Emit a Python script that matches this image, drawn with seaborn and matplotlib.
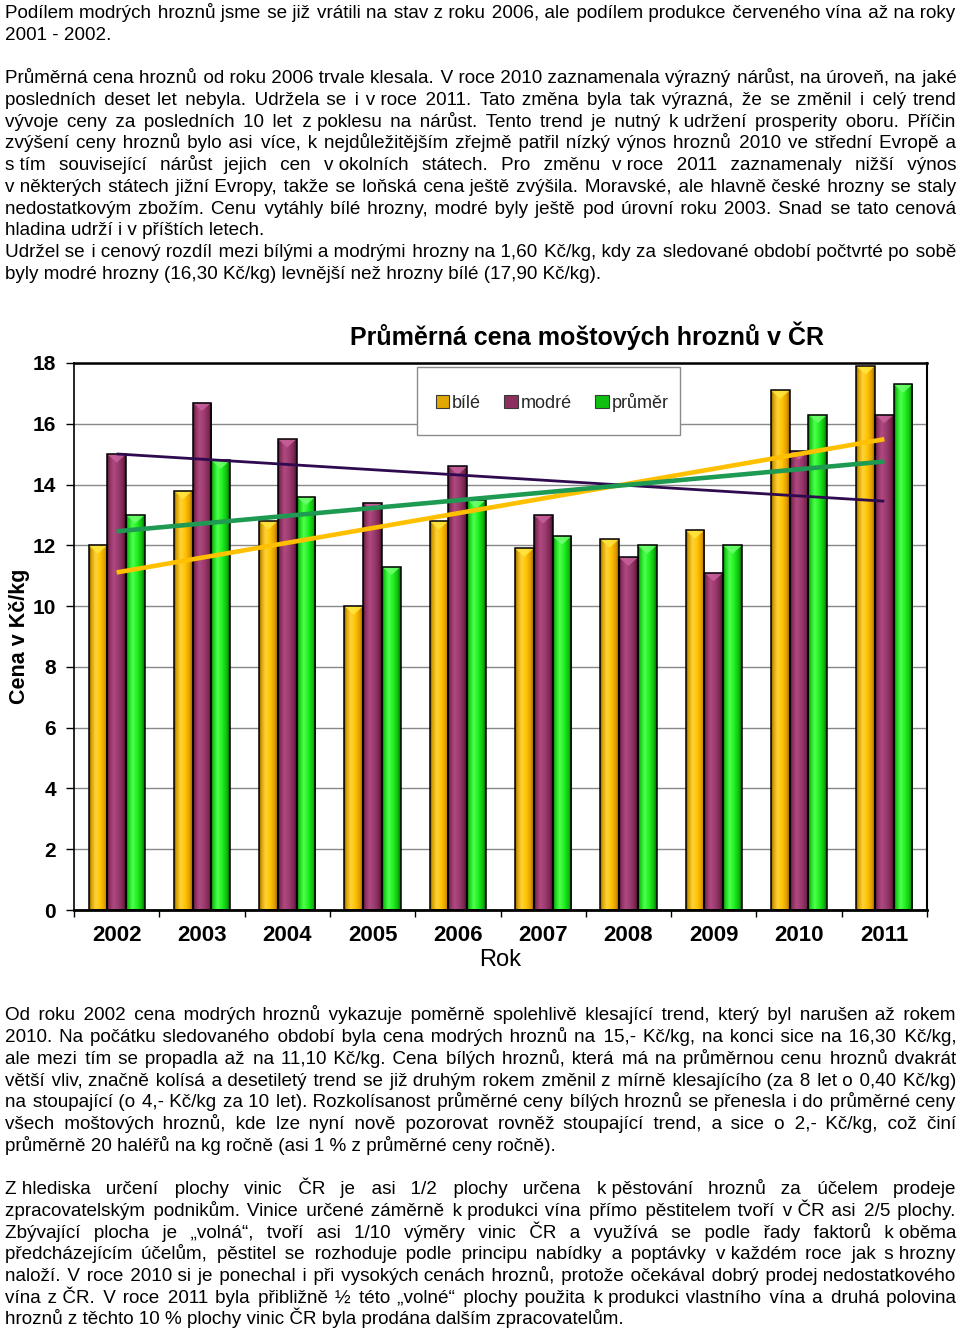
import numpy as np
import pandas as pd
import seaborn as sns
import matplotlib.pyplot as plt
from matplotlib.colors import LinearSegmentedColormap
from matplotlib.patches import Rectangle, Polygon, Patch
from matplotlib.font_manager import FontProperties

# data
years = [2002, 2003, 2004, 2005, 2006, 2007, 2008, 2009, 2010, 2011]
bile = [12.0, 13.8, 12.8, 10.0, 12.8, 11.9, 12.2, 12.5, 17.1, 17.9]
modre = [15.0, 16.7, 15.5, 13.4, 14.6, 13.0, 11.6, 11.1, 15.1, 16.3]
prumer = [13.0, 14.8, 13.6, 11.3, 13.5, 12.3, 12.0, 12.0, 16.3, 17.3]
series = ['bílé', 'modré', 'průměr']
yticks = list(range(0, 19, 2))

NB = '\u00a0'
text_top = [
    ["Podílem modrých hroznů jsme se již vrátili na stav z roku 2006, ale podílem produkce červeného vína až na roky",
     "2001 - 2002."],
    None,
    ["Průměrná cena hroznů od roku 2006 trvale klesala. V roce 2010 zaznamenala výrazný nárůst, na úroveň, na jaké",
     f"posledních deset let nebyla. Udržela se i v{NB}roce 2011. Tato změna byla tak výrazná, že se změnil i celý trend",
     f"vývoje ceny za posledních 10 let z{NB}poklesu na nárůst. Tento trend je nutný k{NB}udržení prosperity oboru. Příčin",
     "zvýšení ceny hroznů bylo asi více, k nejdůležitějším zřejmě patřil nízký výnos hroznů 2010 ve střední Evropě a",
     f"s{NB}tím související nárůst jejich cen v{NB}okolních státech. Pro změnu v{NB}roce 2011 zaznamenaly nižší výnos",
     f"v{NB}některých státech jižní Evropy, takže se loňská cena ještě zvýšila. Moravské, ale hlavně české hrozny se staly",
     "nedostatkovým zbožím. Cenu vytáhly bílé hrozny, modré byly ještě pod úrovní roku 2003. Snad se tato cenová",
     "hladina udrží i v příštích letech."],
    ["Udržel se i cenový rozdíl mezi bílými a modrými hrozny na 1,60 Kč/kg, kdy za sledované období počtvrté po sobě",
     "byly modré hrozny (16,30 Kč/kg) levnější než hrozny bílé (17,90 Kč/kg)."],
]
text_bottom = [
    ["Od roku 2002 cena modrých hroznů vykazuje poměrně spolehlivě klesající trend, který byl narušen až rokem",
     "2010. Na počátku sledovaného období byla cena modrých hroznů na 15,- Kč/kg, na konci sice na 16,30 Kč/kg,",
     "ale mezi tím se propadla až na 11,10 Kč/kg. Cena bílých hroznů, která má na průměrnou cenu hroznů dvakrát",
     "větší vliv, značně kolísá a desetiletý trend se již druhým rokem změnil z mírně klesajícího (za 8 let o 0,40 Kč/kg)",
     "na stoupající (o 4,- Kč/kg za 10 let). Rozkolísanost průměrné ceny bílých hroznů se přenesla i do průměrné ceny",
     "všech moštových hroznů, kde lze nyní nově pozorovat rovněž stoupající trend, a sice o 2,- Kč/kg, což činí",
     f"průměrně 20 haléřů na kg ročně (asi 1{NB}% z průměrné ceny ročně)."],
    None,
    [f"Z{NB}hlediska určení plochy vinic ČR je asi 1/2 plochy určena k{NB}pěstování hroznů za účelem prodeje",
     f"zpracovatelským podnikům. Vinice určené záměrně k{NB}produkci vína přímo pěstitelem tvoří v{NB}ČR asi 2/5 plochy.",
     f"Zbývající plocha je „volná“, tvoří asi 1/10 výměry vinic ČR a využívá se podle řady faktorů k{NB}oběma",
     f"předcházejícím účelům, pěstitel se rozhoduje podle principu nabídky a poptávky v{NB}každém roce jak s{NB}hrozny",
     "naloží. V roce 2010 si je ponechal i při vysokých cenách hroznů, protože očekával dobrý prodej nedostatkového",
     f"vína z{NB}ČR. V roce 2011 byla přibližně ½ této „volné“ plochy použita k{NB}produkci vlastního vína a druhá polovina",
     f"hroznů z{NB}těchto 10{NB}% plochy vinic ČR byla prodána dalším zpracovatelům."],
]

sns.set_theme(style='white')
plt.rcParams['font.family'] = ['Liberation Sans', 'DejaVu Sans']

W, H = 960, 1331
fig = plt.figure(figsize=(W / 100, H / 100), dpi=100)
fig.patch.set_facecolor('white')


def fx(px):
    return px / W


def fy(py):
    return 1 - py / H


# ---- justified body text (one text per line, gaps widened with hair spaces) ----
renderer = fig.canvas.get_renderer()
HAIR = '\u200a'


def justify(line, prop, width):
    def tw(s):
        return renderer.get_text_width_height_descent(s, prop, ismath=False)[0]
    words = line.split(' ')
    wds = [tw(w) for w in words]
    gap = (width - sum(wds)) / (len(words) - 1)
    out = words[0]
    end = wds[0]
    for w, wd in zip(words[1:], wds[1:]):
        end += gap + wd
        best, best_err = None, None
        for k in range(0, 25):
            cand = out + ' ' + HAIR * k + w
            err = tw(cand) - end
            if best_err is None or abs(err) < abs(best_err):
                best, best_err = cand, err
            if err > 0:
                break
        out = best
    return out


def draw_text(paras, base, step=21.7, left=5, right=956, size=13.6):
    prop = FontProperties(family=['Liberation Sans', 'DejaVu Sans'], size=size)
    row = 0
    for para in paras:
        if para is None:
            row += 1
            continue
        for i, line in enumerate(para):
            y = fy(base + step * row)
            if i < len(para) - 1:
                line = justify(line, prop, right - left)
            fig.text(fx(left), y, line, fontproperties=prop, va='baseline', ha='left', color='black')
            row += 1


draw_text(text_top, 18.2)
draw_text(text_bottom, 1020.5)

# ---- chart ----
ax = fig.add_axes([fx(74), fy(910), fx(927 - 74), (910 - 363) / H])

df = pd.DataFrame({
    'Rok': [str(y) for y in years] * 3,
    'řada': [s for s in series for _ in years],
    'cena': bile + modre + prumer,
})
base_cols = ['#FFC000', '#993366', '#1EE61E']
sns.barplot(data=df, x='Rok', y='cena', hue='řada', hue_order=series,
            palette=base_cols, width=0.66, gap=0, saturation=1, errorbar=None,
            edgecolor='black', linewidth=1.1, legend=False, ax=ax)

# cylinder-like shading of the bars
cmaps = [
    LinearSegmentedColormap.from_list('b', [(0, '#7a5a00'), (.12, '#d9a000'), (.35, '#ffd23a'),
                                            (.6, '#ffc400'), (.85, '#e09a00'), (1, '#8a6000')]),
    LinearSegmentedColormap.from_list('m', [(0, '#4a1030'), (.12, '#8a2f5e'), (.35, '#b04a82'),
                                            (.6, '#9c3a6e'), (.85, '#7a2852'), (1, '#3d0d28')]),
    LinearSegmentedColormap.from_list('p', [(0, '#0a6a0a'), (.12, '#18d018'), (.35, '#50ff50'),
                                            (.6, '#1ef01e'), (.85, '#10b810'), (1, '#086008')]),
]
tri_cols = ['#ffe640', '#c8609c', '#70ff70']
grad = np.linspace(0, 1, 64).reshape(1, -1)
for cont, cmap, tc in zip(ax.containers, cmaps, tri_cols):
    for bar in cont:
        x0, w, h = bar.get_x(), bar.get_width(), bar.get_height()
        im = ax.imshow(grad, extent=[x0, x0 + w, 0, h], cmap=cmap, aspect='auto',
                       interpolation='bilinear', zorder=2)
        im.set_clip_path(bar)
        tri = Polygon([(x0, h), (x0 + w, h), (x0 + w / 2, h - 0.28)], closed=True,
                      facecolor=tc, edgecolor='none', alpha=0.85, zorder=2.5)
        tri.set_clip_path(bar)
        ax.add_patch(tri)
        bar.set_facecolor('none')
        bar.set_zorder(3)

# linear trend lines
xs = np.arange(len(years))
trend_cols = ['#FFC000', '#2E0A4E', '#1E9A52']
trend_lw = [3.3, 2.0, 3.3]
for vals, c, lw in zip([bile, modre, prumer], trend_cols, trend_lw):
    k, q = np.polyfit(xs, vals, 1)
    ax.plot([xs[0], xs[-1]], [q + k * xs[0], q + k * xs[-1]], color=c, lw=lw,
            solid_capstyle='butt', zorder=4)

ax.set_xlim(-0.5, len(years) - 0.5)
ax.set_ylim(0, 18)
ax.set_yticks(yticks)
ax.set_yticklabels([str(v) for v in yticks], fontsize=15, fontweight='bold')
ax.set_xticks(xs)
ax.set_xticklabels([str(y) for y in years], fontsize=16, fontweight='bold')
ax.set_xticks(np.arange(-0.5, len(years), 1), minor=True)
ax.tick_params(axis='x', which='major', bottom=False, length=0, pad=11, colors='black')
ax.tick_params(axis='x', which='minor', bottom=True, length=5, width=1, color='black')
ax.tick_params(axis='y', left=True, length=6, width=1, pad=7, color='black', labelcolor='black')
ax.yaxis.grid(True, color='#888888', lw=1)
ax.set_axisbelow(True)
for side, lw in [('left', 1.2), ('bottom', 2.0), ('top', 1.8), ('right', 1.5)]:
    ax.spines[side].set_visible(True)
    ax.spines[side].set_color('black')
    ax.spines[side].set_linewidth(lw)

ax.set_xlabel('Rok', fontsize=17, labelpad=2, color='black')
ax.set_ylabel('')
fig.text(fx(20), fy(636), 'Cena v Kč/kg', rotation=90, ha='center', va='center',
         fontsize=15.5, fontweight='bold', color='black')
fig.text(fx(587), fy(345), 'Průměrná cena moštových hroznů v ČR', ha='center', va='baseline',
         fontsize=18, fontweight='bold', color='black')

# legend box
fig.patches.append(Rectangle((fx(417), fy(435)), fx(680 - 417), (435 - 367) / H,
                             transform=fig.transFigure, facecolor='white',
                             edgecolor='#8a8a8a', lw=1, zorder=1))
handles = [Patch(facecolor=c, edgecolor='#3a3a3a', lw=0.8) for c in ['#e0a800', '#8a2f5e', '#10c010']]
fig.legend(handles, series, loc='center', bbox_to_anchor=(fx(552), fy(402)),
           ncol=3, frameon=False, fontsize=13, handlelength=0.75, handleheight=0.75,
           handletextpad=0.15, columnspacing=1.3)

fig.savefig('out.png', dpi=100, facecolor='white')
